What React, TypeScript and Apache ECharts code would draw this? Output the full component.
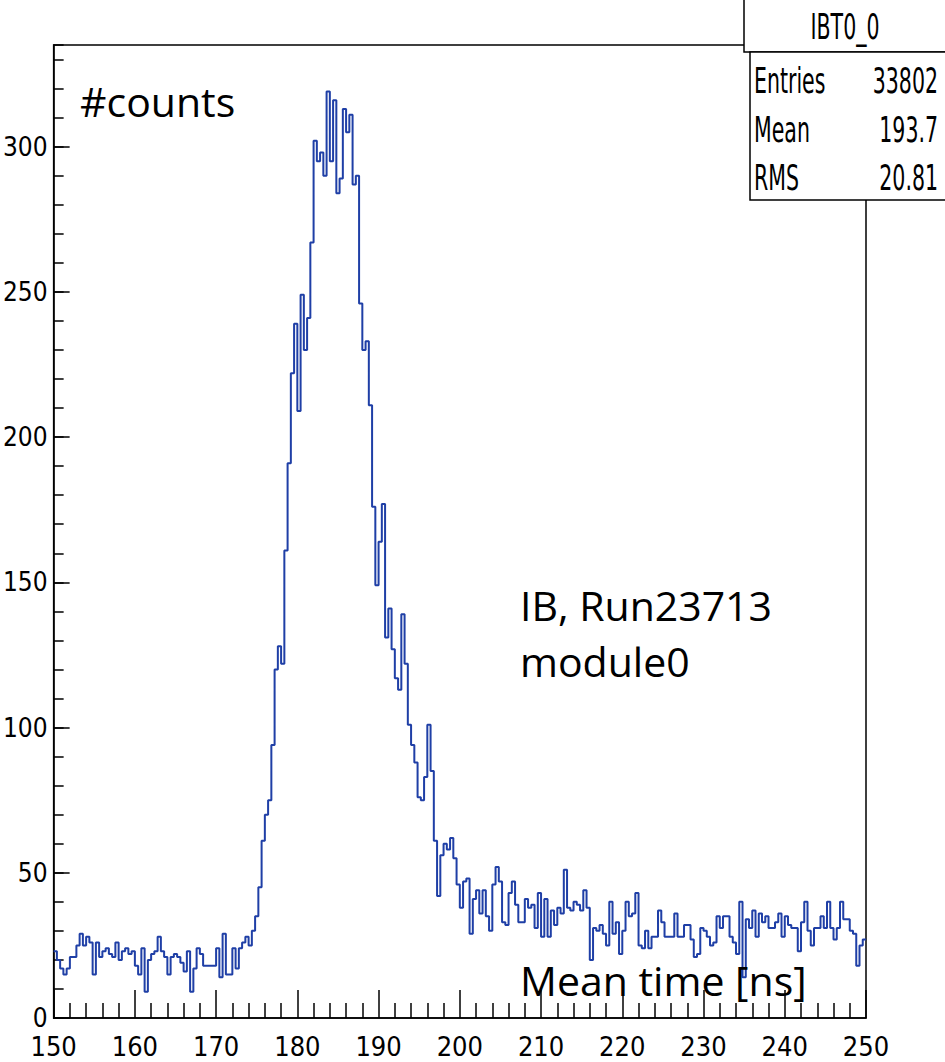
import React, { useEffect, useRef } from "react";
import * as echarts from "echarts";

const X_MIN = 150;
const X_MAX = 250;
const BIN_WIDTH = 0.4;
const Y_MAX = 335;

// bin contents, 250 bins of 0.4 ns from 150 to 250 ns
const counts = [
  23, 20, 17, 15, 17, 21, 21, 25, 29, 25,
  28, 26, 15, 26, 21, 23, 24, 22, 21, 26,
  20, 23, 24, 22, 23, 18, 15, 24, 9, 20,
  22, 23, 28, 23, 21, 15, 21, 22, 21, 19,
  16, 23, 9, 17, 24, 22, 18, 18, 18, 18,
  24, 14, 29, 15, 15, 24, 17, 24, 26, 28,
  25, 30, 35, 45, 61, 70, 75, 94, 120, 128,
  122, 161, 191, 222, 239, 209, 249, 230, 241, 267,
  302, 295, 298, 290, 319, 295, 316, 284, 289, 313,
  305, 311, 287, 290, 246, 230, 233, 211, 176, 149,
  164, 177, 131, 141, 127, 117, 113, 139, 122, 101,
  94, 88, 76, 75, 83, 101, 85, 61, 42, 56,
  60, 58, 62, 55, 46, 38, 47, 48, 29, 41,
  44, 36, 44, 35, 30, 46, 52, 47, 33, 32,
  43, 47, 39, 33, 33, 41, 38, 39, 31, 43,
  28, 41, 28, 37, 32, 38, 36, 51, 38, 37,
  40, 39, 37, 44, 38, 20, 31, 30, 32, 29,
  25, 40, 29, 33, 22, 30, 40, 35, 36, 43,
  25, 24, 30, 24, 28, 28, 37, 33, 28, 28,
  28, 36, 28, 28, 32, 32, 27, 21, 22, 31,
  30, 28, 25, 26, 35, 31, 35, 35, 28, 26,
  22, 40, 14, 34, 31, 37, 28, 36, 33, 35,
  31, 31, 33, 36, 28, 35, 32, 31, 31, 23,
  33, 40, 30, 25, 31, 31, 35, 31, 40, 31,
  27, 31, 40, 34, 34, 30, 29, 18, 25, 27,
];

const statsTitle = "IBT0_0";
const statsNames = ["Entries", "Mean", "RMS"];
const statsValues = ["33802", "193.7", "20.81"];

const yLabel = "#counts";
const xLabel = "Mean time [ns]";
const noteLines = ["IB, Run23713", "module0"];

const NARROW = '"Liberation Sans Narrow", "DejaVu Sans Condensed", "Liberation Sans", Arial, sans-serif';
const CAL = '"Open Sans", "Noto Sans", sans-serif';

export default function App() {
  const ref = useRef<HTMLDivElement>(null);
  useEffect(() => {
    const chart = echarts.init(ref.current!, null, { renderer: "svg" });
    const data: number[][] = counts.map((c, i) => [X_MIN + i * BIN_WIDTH, c]);
    data.push([X_MAX, counts[counts.length - 1]]);

    const statFont = `30px ${NARROW}`;
    const statTexts: any[] = [];
    const rowY = [80, 129, 177];
    statsNames.forEach((n, i) => {
      statTexts.push({
        type: "text", x: 754, y: rowY[i], scaleX: 0.76, scaleY: 1.2, z: 102,
        style: { text: n, font: statFont, fill: "#000", textAlign: "left", align: "left", textVerticalAlign: "middle", verticalAlign: "middle" },
      });
      statTexts.push({
        type: "text", x: 938, y: rowY[i], scaleX: 0.76, scaleY: 1.2, z: 102,
        style: { text: statsValues[i], font: statFont, fill: "#000", textAlign: "right", align: "right", textVerticalAlign: "middle", verticalAlign: "middle" },
      });
    });

    const txt = (s: string, x: number, y: number) => ({
      type: "text", x, y, z: 90,
      style: { text: s, font: `41px ${CAL}`, fill: "#000", textAlign: "left", align: "left", textVerticalAlign: "middle", verticalAlign: "middle" },
    });

    chart.setOption({
      animation: false,
      grid: {
        left: 48, right: 79, top: 45, bottom: 44,
        show: true, borderColor: "#000", borderWidth: 1.5, backgroundColor: "transparent",
      },
      xAxis: {
        type: "value", min: X_MIN, max: X_MAX, interval: 10,
        axisLine: { show: true, onZero: false, lineStyle: { color: "#000", width: 1.5 } },
        axisTick: { show: true, inside: true, length: 28, lineStyle: { color: "#000", width: 1.5 } },
        minorTick: { show: true, splitNumber: 5, length: 15, lineStyle: { color: "#000", width: 1.5 } },
        splitLine: { show: false },
        axisLabel: { fontFamily: NARROW, fontSize: 27, color: "#000", margin: 15 },
      },
      yAxis: [
        {
          type: "value", min: 0, max: Y_MAX, interval: 50,
          axisLine: { show: true, onZero: false, lineStyle: { color: "#000", width: 1.5 } },
          axisTick: { show: true, inside: true, length: 16, lineStyle: { color: "#000", width: 1.5 } },
          splitLine: { show: false },
          axisLabel: { fontFamily: NARROW, fontSize: 26, color: "#000", margin: 6, showMaxLabel: false },
        },
        {
          type: "value", min: 0, max: Y_MAX, interval: 10, position: "left",
          axisLine: { show: false },
          axisTick: { show: true, inside: true, length: 10, lineStyle: { color: "#000", width: 1.5 } },
          splitLine: { show: false },
          axisLabel: { show: false },
        },
      ],
      series: [
        {
          type: "line", step: "end", data, yAxisIndex: 0,
          showSymbol: false, symbol: "none",
          lineStyle: { color: "#1f3fa6", width: 2 },
        },
      ],
      graphic: [
        txt(yLabel, 80, 101),
        txt(noteLines[0], 520, 605),
        txt(noteLines[1], 520, 661),
        txt(xLabel, 520, 980),
        {
          type: "rect", z: 100,
          shape: { x: 744, y: -5, width: 230, height: 57 },
          style: { fill: "#fff", stroke: "#000", lineWidth: 1.5 },
        },
        {
          type: "rect", z: 100,
          shape: { x: 750, y: 52, width: 230, height: 148 },
          style: { fill: "#fff", stroke: "#000", lineWidth: 1.5 },
        },
        {
          type: "text", x: 845, y: 26, scaleX: 0.76, scaleY: 1.2, z: 102,
          style: { text: statsTitle, font: statFont, fill: "#000", textAlign: "center", align: "center", textVerticalAlign: "middle", verticalAlign: "middle" },
        },
        ...statTexts,
      ],
    });
    return () => chart.dispose();
  }, []);
  return (
    <div
      ref={ref}
      style={{ position: "fixed", left: 0, top: 0, width: 945, height: 1062, background: "#fff" }}
    />
  );
}
